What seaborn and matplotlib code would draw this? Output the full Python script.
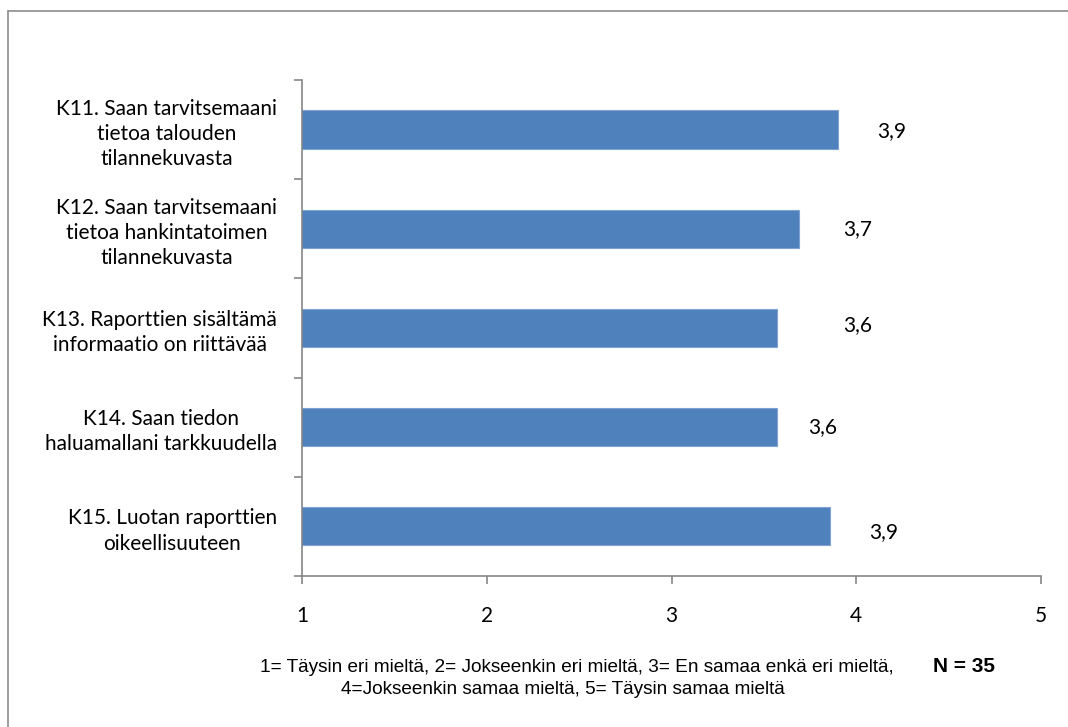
import matplotlib
matplotlib.use("Agg")
import matplotlib.pyplot as plt
from matplotlib.lines import Line2D
import seaborn as sns
import pandas as pd

# Survey items (Finnish) and their mean scores on a 1-5 scale
items = [
    "K11. Saan tarvitsemaani\ntietoa talouden\ntilannekuvasta",
    "K12. Saan tarvitsemaani\ntietoa hankintatoimen\ntilannekuvasta",
    "K13. Raporttien sisältämä\ninformaatio on riittävää",
    "K14. Saan tiedon\nhaluamallani tarkkuudella",
    "K15. Luotan raporttien\noikeellisuuteen",
]
means = [3.90, 3.69, 3.57, 3.57, 3.86]
scale_ticks = [1, 2, 3, 4, 5]
scale_note_1 = "1= Täysin eri mieltä, 2= Jokseenkin eri mieltä, 3= En samaa enkä eri mieltä,"
scale_note_2 = "4=Jokseenkin samaa mieltä, 5= Täysin samaa mieltä"
n_note = "N = 35"

# nudge of each value label away from its bar end (data units)
label_nudge_x = [0.29, 0.32, 0.44, 0.25, 0.29]
label_nudge_y = [0.02, 0.0, -0.03, 0.0, 0.06]

sns.set_theme(style="white")
plt.rcParams["font.family"] = ["Lato", "DejaVu Sans"]

df = pd.DataFrame({"item": items, "mean": means})

fig = plt.figure(figsize=(10.68, 7.27), dpi=100)
ax = fig.add_axes([0.2828, 0.2077, 0.6919, 0.6823])

sns.barplot(data=df, x="mean", y="item", orient="h", color="#4F81BD",
            width=0.385, edgecolor="#7EA3D3", linewidth=0.8, saturation=1,
            ax=ax)

ax.set_xlim(1, 5)
ax.set_xticks(scale_ticks)
ax.set_xticklabels([str(t) for t in scale_ticks])
ax.set_ylim(len(items) - 0.5, -0.5)
ax.set_xlabel("")
ax.set_ylabel("")

axis_grey = "#868686"
for side in ["top", "right"]:
    ax.spines[side].set_visible(False)
for side in ["left", "bottom"]:
    ax.spines[side].set_visible(True)
    ax.spines[side].set_color(axis_grey)
    ax.spines[side].set_linewidth(1.2)

# category boundary ticks on the y axis, labels on the category centres
ax.set_yticks([i - 0.5 for i in range(len(items) + 1)], minor=True)
ax.tick_params(axis="y", which="minor", left=True, length=6, width=1.2,
               color=axis_grey)
ax.tick_params(axis="y", which="major", left=False, length=0, pad=18,
               labelsize=15, labelcolor="#000000")
ax.tick_params(axis="x", which="major", bottom=True, length=5.5, width=1.2,
               color=axis_grey, pad=16, labelsize=15, labelcolor="#000000")
for lbl in ax.get_yticklabels():
    lbl.set_multialignment("center")
    lbl.set_linespacing(1.32)

# value labels with decimal comma
for i, (v, dx, dy) in enumerate(zip(means, label_nudge_x, label_nudge_y)):
    ax.text(v + dx, i + dy, f"{v:.1f}".replace(".", ","), ha="center",
            va="center", fontsize=15, color="#000000")

# scale explanation and sample size below the chart
note_font = ["Liberation Sans", "DejaVu Sans"]
fig.text(577 / 1068, 1 - 667 / 727, scale_note_1, ha="center", va="center",
         fontsize=13.7, family=note_font, color="#000000")
fig.text(563 / 1068, 1 - 690 / 727, scale_note_2, ha="center", va="center",
         fontsize=13.7, family=note_font, color="#000000")
fig.text(964 / 1068, 1 - 667 / 727, n_note, ha="center", va="center",
         fontsize=15, fontweight="bold", family=note_font, color="#000000")

# chart-area frame along the left and top
frame_kw = dict(color="#8C8C8C", linewidth=1.2, transform=fig.transFigure)
fig.add_artist(Line2D([8 / 1068, 8 / 1068], [0, 1 - 11 / 727], **frame_kw))
fig.add_artist(Line2D([8 / 1068, 1], [1 - 11 / 727, 1 - 11 / 727], **frame_kw))

fig.savefig("out.png", dpi=100)
